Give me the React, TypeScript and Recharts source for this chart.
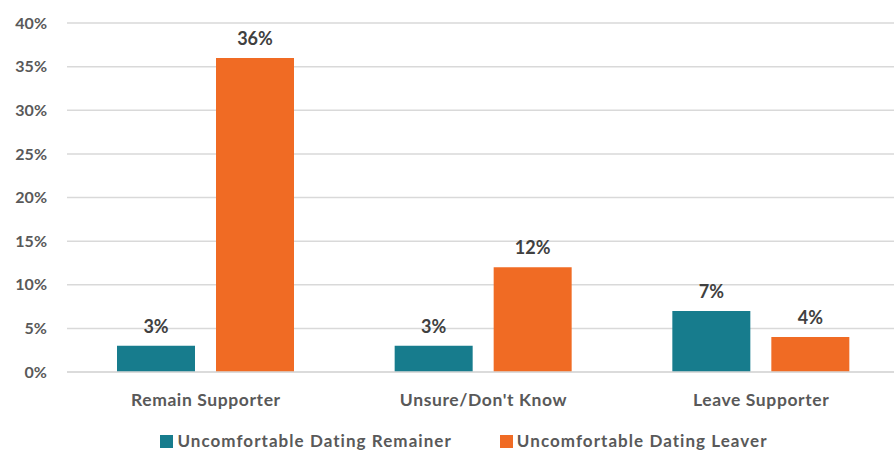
import React from 'react';
import { BarChart, Bar, XAxis, YAxis, CartesianGrid, Legend, LabelList } from 'recharts';

const categories = ['Remain Supporter', "Unsure/Don't Know", 'Leave Supporter'];
const remainerValues = [3, 3, 7];
const leaverValues = [36, 12, 4];
const yTicks = [0, 5, 10, 15, 20, 25, 30, 35, 40];

const seriesNames = ['Uncomfortable Dating Remainer', 'Uncomfortable Dating Leaver'];
const TEAL = '#177c8d';
const ORANGE = '#f06b24';
const TEXT = '#595959';
const FONT = 'Lato, "Open Sans", sans-serif';

const data = categories.map((name, i) => ({
  name,
  remainer: remainerValues[i],
  leaver: leaverValues[i],
}));

const LegendContent = () => {
  const items = [
    { label: seriesNames[0], color: TEAL },
    { label: seriesNames[1], color: ORANGE },
  ];
  return (
    <div style={{ display: 'flex', justifyContent: 'center', alignItems: 'center', height: 24, fontFamily: FONT, fontWeight: 700, fontSize: 17, lineHeight: '24px', color: TEXT, paddingLeft: 34 }}>
      {items.map((it, idx) => (
        <div key={it.label} style={{ display: 'flex', alignItems: 'center', marginLeft: idx ? 48 : 0 }}>
          <span style={{ width: 13, height: 13, background: it.color, display: 'inline-block', marginRight: 4 }} />
          <span style={{ letterSpacing: 1.05 }}>{it.label}</span>
        </div>
      ))}
    </div>
  );
};

export default function App() {
  const tickStyle = { fill: TEXT, fontSize: 16, fontWeight: 700, fontFamily: FONT };
  const catStyle = { ...tickStyle, fontSize: 17.5, letterSpacing: 0.6 };
  const labelStyle = { fill: '#404040', fontSize: 18, fontWeight: 700, fontFamily: FONT };
  return (
    <div style={{ position: 'absolute', left: 0, top: 0, width: 894, height: 450, overflow: 'hidden', background: '#fff' }}>
      <BarChart
        width={902}
        height={450}
        data={data}
        margin={{ top: 23, right: 2, left: 0, bottom: 0 }}
        barGap={21}
        barSize={78}
      >
        <CartesianGrid vertical={false} stroke="#d9d9d9" strokeWidth={1.5} />
        <XAxis
          dataKey="name"
          height={54}
          tickLine={false}
          axisLine={{ stroke: '#d9d9d9', strokeWidth: 1.5 }}
          tick={catStyle}
          tickMargin={16}
        />
        <YAxis
          width={67}
          domain={[0, 40]}
          ticks={yTicks}
          tickFormatter={(v: number) => `${v}%`}
          axisLine={false}
          tickLine={false}
          tickSize={0}
          tickMargin={20}
          tick={tickStyle}
        />
        <Legend verticalAlign="bottom" height={24} content={<LegendContent />} wrapperStyle={{ left: 0, width: 894, top: 429, bottom: 'auto' }} />
        <Bar dataKey="remainer" name={seriesNames[0]} fill={TEAL} isAnimationActive={false}>
          <LabelList dataKey="remainer" position="top" offset={13} formatter={(v: any) => `${v}%`} style={labelStyle} />
        </Bar>
        <Bar dataKey="leaver" name={seriesNames[1]} fill={ORANGE} isAnimationActive={false}>
          <LabelList dataKey="leaver" position="top" offset={13} formatter={(v: any) => `${v}%`} style={labelStyle} />
        </Bar>
      </BarChart>
    </div>
  );
}
